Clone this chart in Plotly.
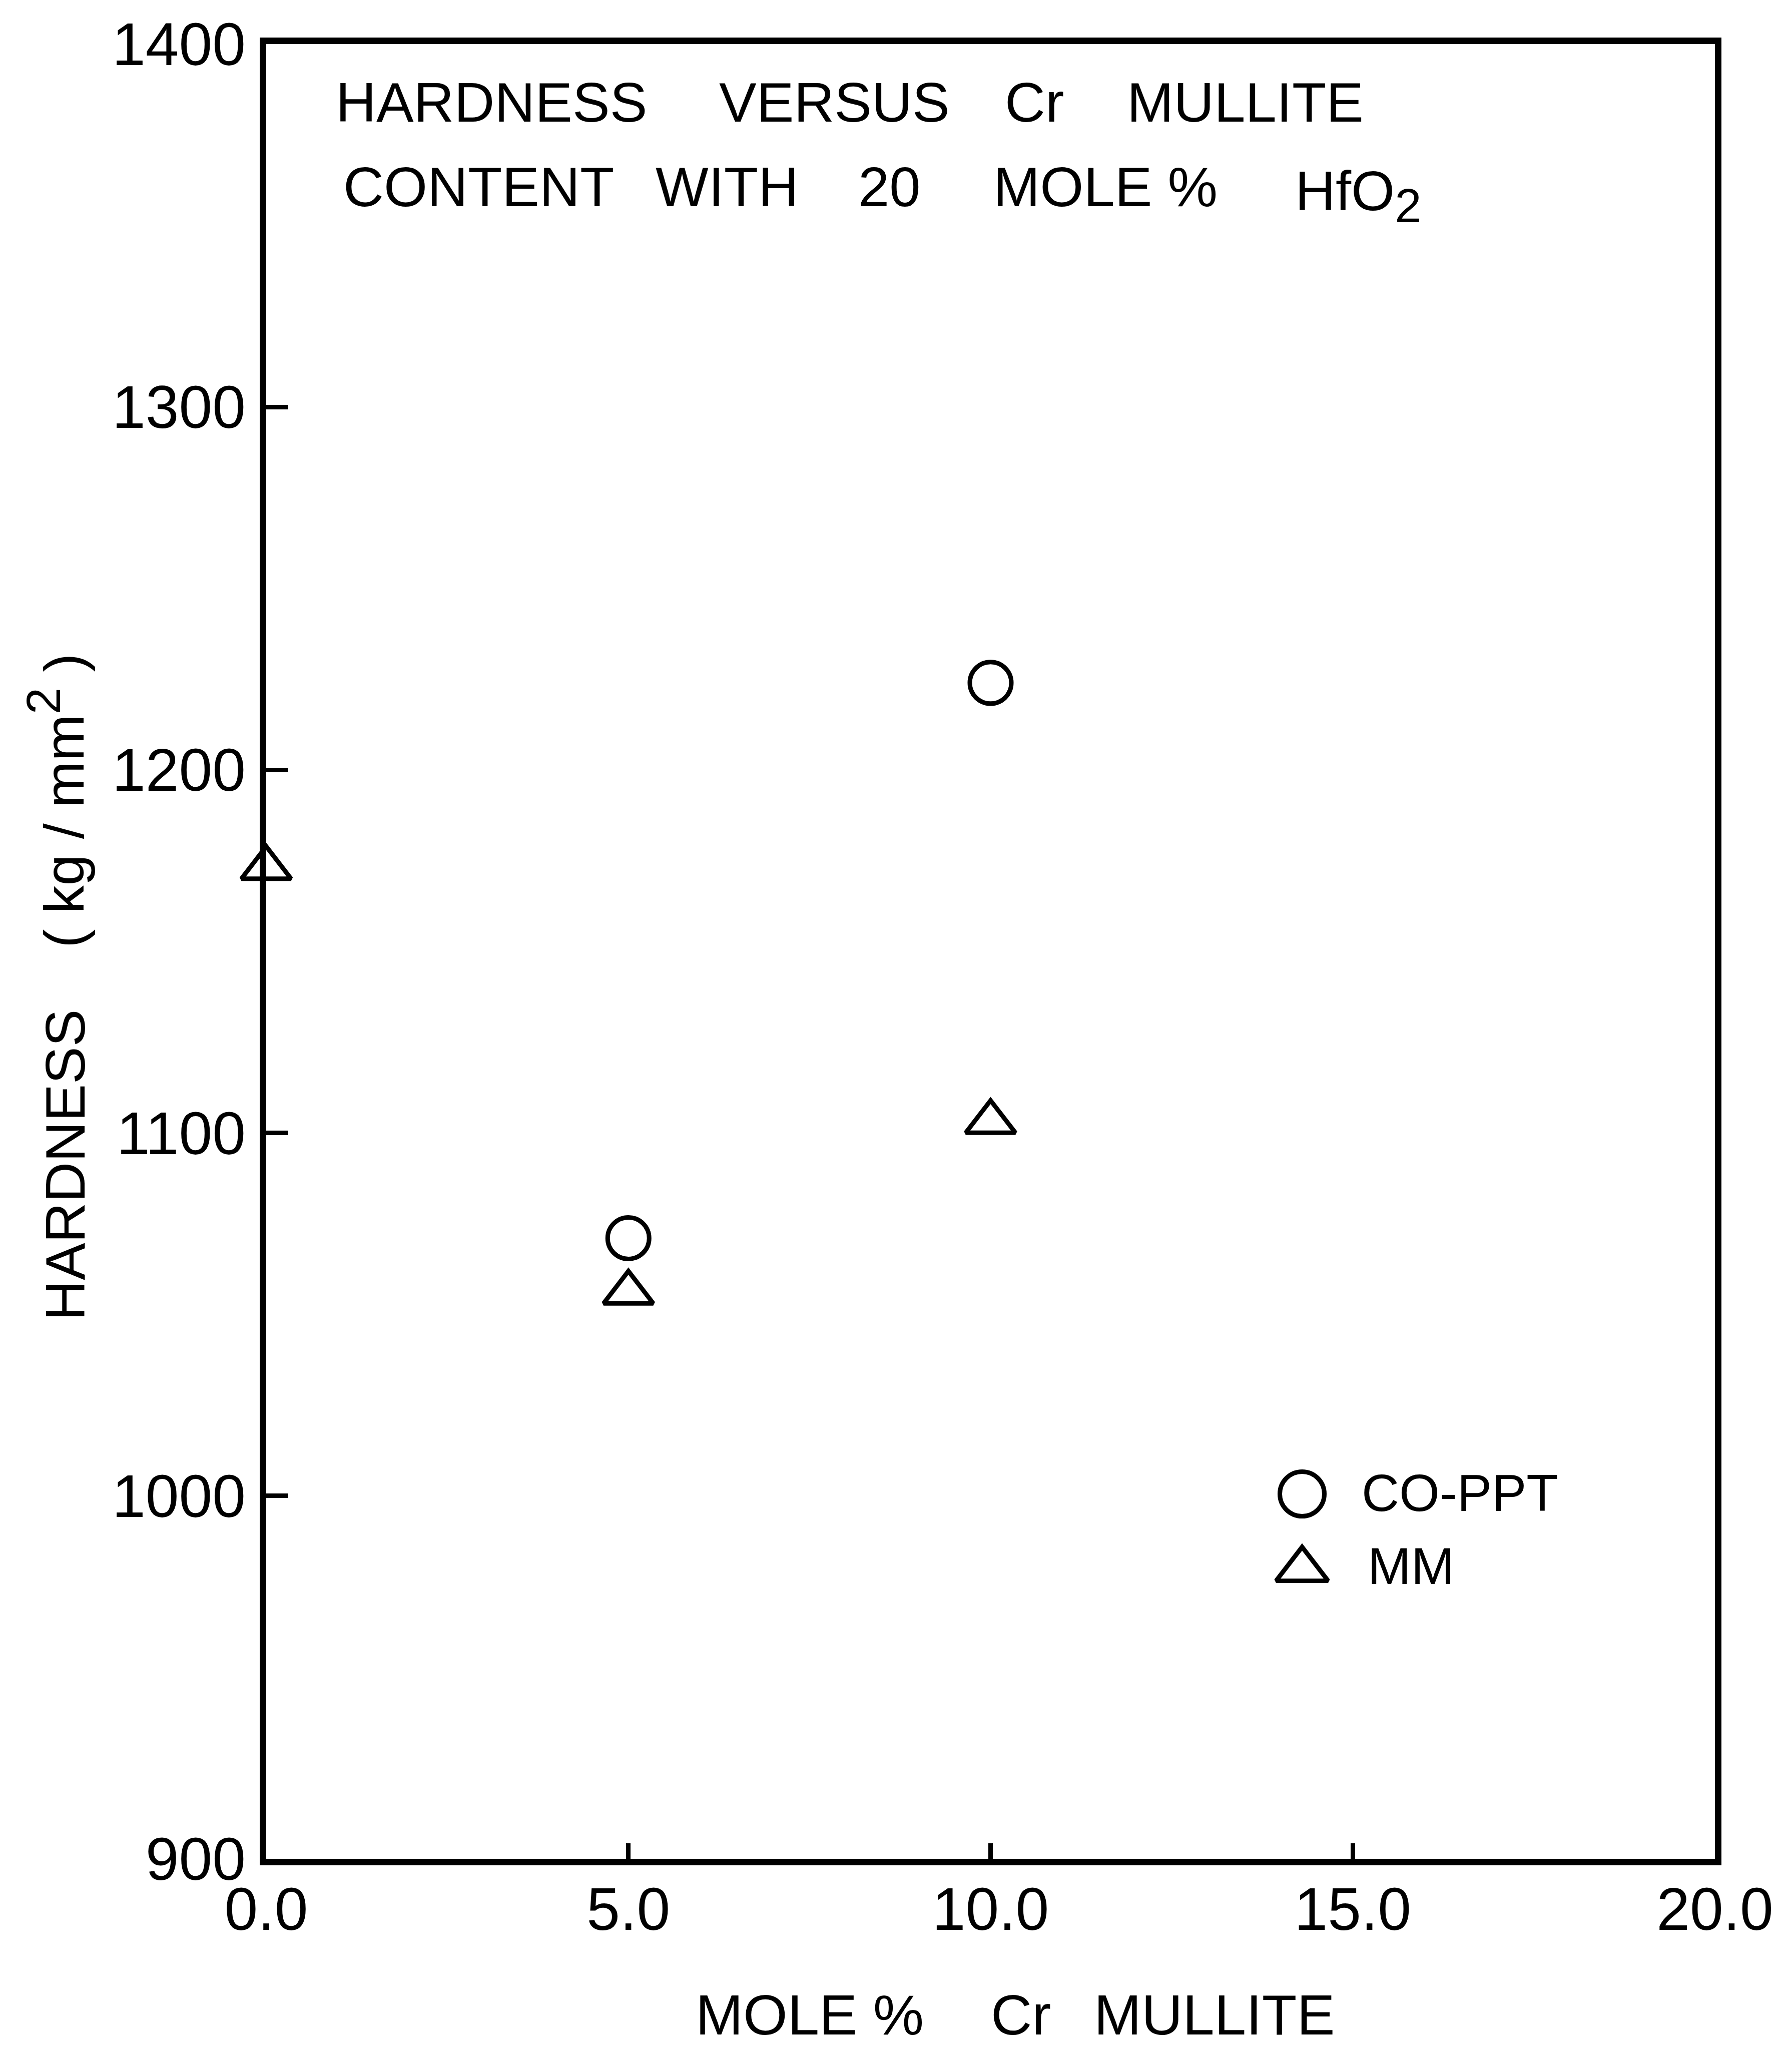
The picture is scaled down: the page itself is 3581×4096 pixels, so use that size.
import plotly.graph_objects as go

# Hardness measurements (kg/mm^2) against mole % Cr mullite
co_ppt_x = [5.0, 10.0]
co_ppt_y = [1071, 1224]
mm_x = [0.0, 5.0, 10.0]
mm_y = [1173, 1056, 1103]

x_ticks = [0, 5, 10, 15, 20]
y_ticks = [900, 1000, 1100, 1200, 1300, 1400]

W, H = 3581, 4096
L, R, T, B = 532, 3427, 88, 3714   # plot-area edges in pixels
PW, PH = R - L, B - T
FONT = "Liberation Sans"
INK = "black"


def px(x):
    return (x - L) / PW


def py(y):
    return (B - y) / PH


fig = go.Figure()

fig.add_trace(go.Scatter(
    x=co_ppt_x, y=co_ppt_y, mode="markers", name="CO-PPT",
    marker=dict(symbol="circle-open", size=83, color=INK, line=dict(width=9, color=INK)),
    showlegend=False, cliponaxis=False,
))
fig.add_trace(go.Scatter(
    x=mm_x, y=mm_y, mode="markers", name="MM",
    marker=dict(symbol="triangle-up-open", size=86, color=INK, line=dict(width=9, color=INK)),
    showlegend=False, cliponaxis=False,
))

# Key symbols, drawn on an overlay axis spanning the plot area
key_x = [px(2602), px(2602)]
key_y = [py(2985), py(3136)]
fig.add_trace(go.Scatter(
    x=[key_x[0]], y=[key_y[0]], xaxis="x2", yaxis="y2", mode="markers",
    marker=dict(symbol="circle-open", size=89, color=INK, line=dict(width=9, color=INK)),
    showlegend=False, hoverinfo="skip",
))
fig.add_trace(go.Scatter(
    x=[key_x[1]], y=[key_y[1]], xaxis="x2", yaxis="y2", mode="markers",
    marker=dict(symbol="triangle-up-open", size=90, color=INK, line=dict(width=9, color=INK)),
    showlegend=False, hoverinfo="skip",
))

annotations = []


def label(text, x, y, size=112, angle=0, xanchor="center"):
    annotations.append(dict(
        text=text, x=px(x), y=py(y), xref="paper", yref="paper",
        xanchor=xanchor, yanchor="middle", showarrow=False, textangle=angle,
        font=dict(family=FONT, size=size, color=INK),
    ))


# Title inside the frame
for word, cx in [("HARDNESS", 982), ("VERSUS", 1667), ("Cr", 2067), ("MULLITE", 2488)]:
    label(word, cx, 204)
for word, cx in [("CONTENT", 956), ("WITH", 1453), ("20", 1777), ("MOLE %", 2209)]:
    label(word, cx, 373)
label("HfO<sub><span style='font-size:96px'>2</span></sub>", 2586, 392, xanchor="left")

# Key text
label("CO-PPT", 2719, 2983, size=104, xanchor="left")
label("MM", 2731, 3129, size=104, xanchor="left")

# Axis titles
for word, cx in [("MOLE %", 1618), ("Cr", 2040), ("MULLITE", 2426)]:
    label(word, cx, 4025, size=114)
label("HARDNESS", 130, 2328, size=112, angle=-90)
label("( kg / mm<sup><span style='font-size:96px'>2</span></sup> )", 112, 1600, size=112, angle=-90)

fig.update_layout(
    width=W, height=H,
    margin=dict(l=L, r=W - R, t=T, b=H - B, pad=0),
    paper_bgcolor="white", plot_bgcolor="white",
    font=dict(family=FONT, size=120, color=INK),
    annotations=annotations,
    xaxis=dict(
        range=[0, 20], tickvals=x_ticks, tickformat=".1f",
        ticks="inside", ticklen=31, tickwidth=9, tickcolor=INK,
        showline=True, linewidth=13, linecolor=INK, mirror=True,
        showgrid=False, zeroline=False,
        tickfont=dict(family=FONT, size=120, color=INK),
        ticklabelstandoff=-15,
    ),
    yaxis=dict(
        range=[900, 1400], tickvals=y_ticks,
        ticks="inside", ticklen=44, tickwidth=9, tickcolor=INK,
        showline=True, linewidth=13, linecolor=INK, mirror=True,
        showgrid=False, zeroline=False,
        tickfont=dict(family=FONT, size=120, color=INK),
        ticklabelstandoff=4,
    ),
    xaxis2=dict(overlaying="x", range=[0, 1], visible=False),
    yaxis2=dict(overlaying="y", range=[0, 1], visible=False),
)

fig.write_html("out.html")
